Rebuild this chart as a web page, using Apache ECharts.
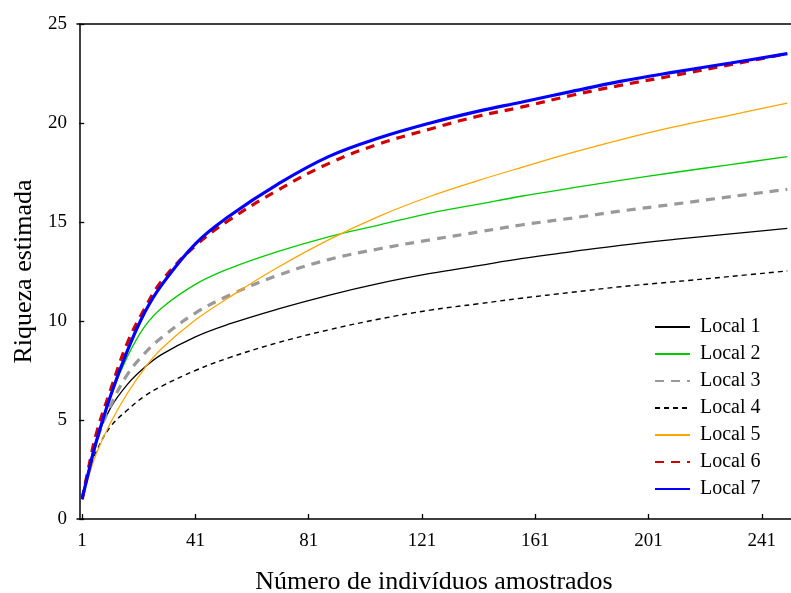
<!DOCTYPE html>
<html>
<head>
<meta charset="utf-8">
<script src="https://cdn.jsdelivr.net/npm/echarts@6/dist/echarts.min.js"></script>
<style>
html,body{margin:0;padding:0;background:#fff;}
#chart{width:791px;height:593px;}
</style>
</head>
<body>
<div id="chart"></div>
<script>
const xs = [1, 3, 6, 11, 17, 23, 29, 41, 53, 70, 88, 106, 124, 141, 156, 174, 191, 210, 230, 250];
const local1 = [1, 2.3, 4.0, 5.6, 6.8, 7.65, 8.3, 9.2, 9.85, 10.6, 11.3, 11.9, 12.4, 12.8, 13.15, 13.5, 13.82, 14.12, 14.4, 14.68];
const local2 = [1, 2.2, 3.9, 6.2, 8.2, 9.7, 10.65, 11.85, 12.65, 13.5, 14.25, 14.85, 15.45, 15.9, 16.3, 16.72, 17.1, 17.5, 17.9, 18.3];
const local3 = [1, 2.2, 3.9, 5.7, 7.3, 8.35, 9.15, 10.4, 11.3, 12.3, 13.1, 13.65, 14.1, 14.5, 14.85, 15.2, 15.55, 15.9, 16.28, 16.65];
const local4 = [1, 2.2, 3.4, 4.66, 5.5, 6.2, 6.7, 7.5, 8.15, 8.9, 9.55, 10.1, 10.55, 10.87, 11.15, 11.45, 11.73, 11.98, 12.25, 12.53];
const local5 = [1, 2.0, 3.3, 4.85, 6.35, 7.6, 8.6, 10.05, 11.2, 12.7, 14.1, 15.3, 16.3, 17.1, 17.75, 18.5, 19.15, 19.8, 20.4, 21.0];
const local6 = [1, 2.4, 4.3, 6.5, 8.9, 10.6, 12.0, 13.8, 15.1, 16.6, 17.95, 18.95, 19.7, 20.35, 20.8, 21.4, 21.9, 22.4, 22.95, 23.5];
const local7 = [1, 2.2, 3.9, 6.2, 8.5, 10.4, 11.8, 13.9, 15.3, 16.9, 18.3, 19.25, 20.0, 20.6, 21.05, 21.6, 22.1, 22.57, 23.03, 23.5];
const seriesNames = ['Local 1', 'Local 2', 'Local 3', 'Local 4', 'Local 5', 'Local 6', 'Local 7'];
const xTicks = [1, 41, 81, 121, 161, 201, 241];

const values = [local1, local2, local3, local4, local5, local6, local7];
const styles = [
  {color: '#000000', width: 1.3, type: 'solid'},
  {color: '#00cc00', width: 1.3, type: 'solid'},
  {color: '#999999', width: 3.2, type: [9, 7]},
  {color: '#000000', width: 1.4, type: [5, 4]},
  {color: '#ffa500', width: 1.3, type: 'solid'},
  {color: '#d00000', width: 3.2, type: [9, 7]},
  {color: '#0000ff', width: 3.2, type: 'solid'}
];
const font = '"Liberation Serif", "Times New Roman", serif';

const series = seriesNames.map((n, i) => ({
  name: n,
  type: 'line',
  smooth: 0.4,
  symbol: 'none',
  data: xs.map((x, j) => [x, values[i][j]]),
  lineStyle: styles[i],
  itemStyle: {color: styles[i].color},
  z: 2 + i
}));

const chart = echarts.init(document.getElementById('chart'), null, {renderer: 'canvas'});
chart.setOption({
  animation: false,
  backgroundColor: '#ffffff',
  grid: {left: 77, right: 0, top: 24, bottom: 74, containLabel: false, outerBoundsMode: 'none'},
  legend: {
    orient: 'vertical',
    left: 649,
    top: 312,
    itemWidth: 35,
    itemHeight: 14,
    itemGap: 7,
    itemStyle: {opacity: 0, color: 'rgba(0,0,0,0)', borderWidth: 0},
    textStyle: {fontFamily: font, fontSize: 20, color: '#000', padding: [0, 0, 0, 5]},
    data: seriesNames
  },
  xAxis: [{
    type: 'value',
    min: -0.8,
    max: 251.3,
    name: 'Número de indivíduos amostrados',
    nameLocation: 'middle',
    nameGap: 50,
    nameTextStyle: {fontFamily: font, fontSize: 26, color: '#000'},
    axisLine: {show: true, lineStyle: {color: '#000', width: 1.5}},
    axisTick: {show: true, inside: true, length: 5, customValues: xTicks, lineStyle: {color: '#000', width: 1.3}},
    axisLabel: {customValues: xTicks, fontFamily: font, fontSize: 19, color: '#000', margin: 13},
    splitLine: {show: false}
  }, {
    type: 'value',
    position: 'top',
    min: -0.8,
    max: 251.3,
    axisLine: {show: true, onZero: false, lineStyle: {color: '#000', width: 1.5}},
    axisTick: {show: false},
    axisLabel: {show: false},
    splitLine: {show: false}
  }],
  yAxis: {
    type: 'value',
    min: 0,
    max: 25,
    interval: 5,
    name: 'Riqueza estimada',
    nameLocation: 'middle',
    nameGap: 38,
    nameTextStyle: {fontFamily: font, fontSize: 26, color: '#000'},
    axisLine: {show: true, lineStyle: {color: '#000', width: 1.5}},
    axisTick: {show: true, inside: true, length: 5, lineStyle: {color: '#000', width: 1.3}},
    axisLabel: {fontFamily: font, fontSize: 19, color: '#000', margin: 10},
    splitLine: {show: false}
  },
  series: series
});
</script>
</body>
</html>
